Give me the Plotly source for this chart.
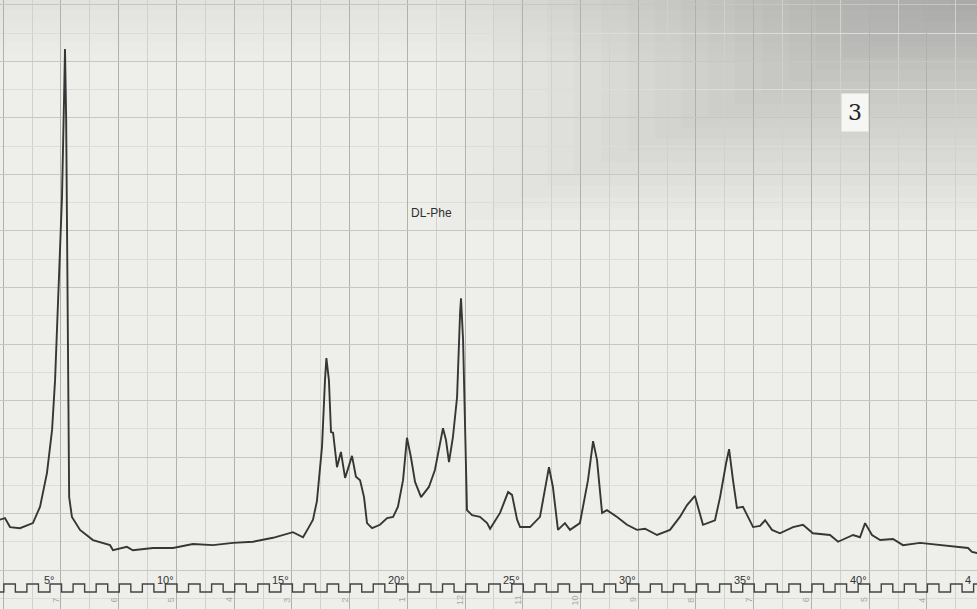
import plotly.graph_objects as go

# --- data (2-theta in degrees, intensity in chart divisions) ---
two_theta = [2.83, 3.05, 3.27, 3.70, 4.26, 4.57, 4.87, 5.09, 5.22, 5.35, 5.52, 5.61, 5.65,
             5.70, 5.74, 5.76, 5.79, 5.83, 5.95, 6.30, 6.86, 7.60, 7.73, 8.33, 8.59, 9.46,
             10.33, 11.19, 12.06, 12.93, 13.79, 14.66, 15.52, 15.96, 16.20, 16.39, 16.56,
             16.78, 16.91, 16.97, 17.08, 17.17, 17.26, 17.43, 17.60, 17.78, 18.08, 18.25,
             18.43, 18.60, 18.73, 18.95, 19.29, 19.60, 19.86, 20.07, 20.29, 20.46, 20.63,
             20.81, 21.07, 21.24, 21.41, 21.67, 21.85, 22.02, 22.15, 22.28, 22.45, 22.63,
             22.76, 22.80, 22.89, 22.97, 23.06, 23.28, 23.62, 23.93, 24.06, 24.49, 24.84,
             25.01, 25.23, 25.36, 25.79, 26.22, 26.61, 26.78, 27.00, 27.30, 27.52, 27.95,
             28.30, 28.52, 28.69, 28.91, 29.12, 29.56, 29.99, 30.42, 30.77, 31.29, 31.85,
             32.28, 32.59, 32.93, 33.28, 33.80, 34.02, 34.28, 34.41, 34.58, 34.75, 35.01,
             35.45, 35.75, 35.97, 36.27, 36.61, 37.18, 37.61, 38.04, 38.78, 39.13, 39.78,
             40.08, 40.30, 40.60, 40.95, 41.51, 41.94, 42.68, 43.55, 44.41, 44.76, 44.93, 45.15]
intensity = [8.9, 9.2, 7.6, 7.4, 8.3, 11.2, 17.2, 24.8, 33.6, 48.3, 66.0, 83.7, 92.2,
             80.0, 60.0, 48.3, 24.8, 12.9, 9.4, 7.1, 5.3, 4.4, 3.5, 4.1, 3.5, 3.9,
             3.9, 4.6, 4.4, 4.8, 5.0, 5.7, 6.7, 5.8, 7.5, 8.9, 12.2,
             21.8, 33.6, 37.5, 33.6, 24.4, 24.3, 18.2, 20.9, 16.3, 20.2, 16.5,
             15.9, 12.9, 8.3, 7.4, 8.0, 9.2, 9.4, 11.2, 15.9, 23.4, 20.0,
             15.6, 12.9, 13.8, 14.7, 17.7, 21.8, 25.1, 23.0, 19.1, 23.5, 30.6,
             45.5, 48.1, 40.7, 24.8, 10.6, 9.7, 9.4, 8.3, 7.3, 10.1, 13.8,
             13.3, 8.9, 7.6, 7.6, 9.4, 18.2, 14.7, 7.1, 8.3, 7.1, 8.3,
             15.9, 22.8, 19.5, 10.1, 10.6, 9.4, 8.0, 7.1, 7.3, 6.2, 7.1,
             9.4, 11.5, 13.1, 8.0, 8.8, 12.9, 18.9, 21.4, 15.9, 11.0, 11.2,
             7.6, 7.8, 8.8, 7.1, 6.5, 7.6, 8.0, 6.5, 6.2, 5.0, 6.2,
             5.8, 8.3, 6.2, 5.3, 5.5, 4.4, 4.8, 4.4, 4.1, 3.9, 3.2, 3.0]

degree_labels = ["5°", "10°", "15°", "20°", "25°", "30°", "35°", "40°", "4"]
degree_label_pos = [5, 10, 15, 20, 25, 30, 35, 40, 44.76]
paper_numbers = ["7", "6", "5", "4", "3", "2", "1", "12", "11", "10", "9", "8", "7", "6", "5", "4"]
timing_marks = list(range(2, 46))  # one pulse per degree

X_RANGE = [2.835, 45.147]
Y_RANGE = [-6.90, 100.88]
GRID0 = 5.476  # first bold chart-paper line (deg)

fig = go.Figure()

# timing square wave
wx, wy = [], []
for d in timing_marks:
    wx += [d, d + 0.5]
    wy += [-2.48, -3.89]
fig.add_trace(go.Scatter(x=wx, y=wy, mode="lines", line=dict(shape="hv", color="#444", width=1.4),
                         hoverinfo="skip", showlegend=False))

# diffraction trace
fig.add_trace(go.Scatter(x=two_theta, y=intensity, mode="lines",
                         line=dict(color="#363636", width=1.9), showlegend=False))

ann = []
for t, d in zip(degree_labels, degree_label_pos):
    ann.append(dict(x=d, y=-1.75, text=t, showarrow=False, xanchor="center", yanchor="middle",
                    font=dict(family="Liberation Sans", size=11, color="#333333")))
for i, t in enumerate(paper_numbers):
    ann.append(dict(x=GRID0 + 2.5 * i - 0.22, y=-5.3, text=t, showarrow=False, textangle=-90,
                    xanchor="center", yanchor="middle",
                    font=dict(family="Liberation Sans", size=9, color="#a8a8a8")))
ann.append(dict(x=21.54, y=63.2, text="DL-Phe", showarrow=False, xanchor="center", yanchor="middle",
                font=dict(family="Liberation Sans", size=12, color="#2e2e2e")))
ann.append(dict(x=0.875, y=0.816, xref="paper", yref="paper", text="3", showarrow=False,
                xanchor="center", yanchor="middle", bgcolor="#f6f6f4", borderpad=6,
                font=dict(family="DejaVu Serif", size=22, color="#222222")))

# scanned-paper shading toward the top-right corner
shapes = []
n = 20
for i in range(1, n + 1):
    f = i / n
    shapes.append(dict(type="rect", xref="paper", yref="paper", layer="below",
                       x0=1 - 0.55 * f, x1=1, y0=1 - 0.38 * f, y1=1,
                       fillcolor="rgba(60,60,60,0.016)", line=dict(width=0)))
for i in range(1, 7):
    shapes.append(dict(type="rect", xref="paper", yref="paper", layer="below",
                       x0=0, x1=1, y0=1 - 0.017 * i, y1=1,
                       fillcolor="rgba(60,60,60,0.011)", line=dict(width=0)))

fig.update_layout(
    width=977, height=609, margin=dict(l=0, r=0, t=0, b=0),
    paper_bgcolor="#eeeeea", plot_bgcolor="#eeeeea",
    annotations=ann, shapes=shapes, showlegend=False,
    xaxis=dict(range=X_RANGE, showticklabels=False, ticks="", zeroline=False, showline=False,
               tick0=GRID0, dtick=2.5, showgrid=True, gridcolor="#b0b0ae", gridwidth=1,
               minor=dict(tick0=GRID0, dtick=1.25, showgrid=True, gridcolor="#d0d0cd", gridwidth=1)),
    yaxis=dict(range=Y_RANGE, showticklabels=False, ticks="", zeroline=False, showline=False,
               tick0=0, dtick=10, showgrid=True, gridcolor="#c6c6c3", gridwidth=1,
               minor=dict(tick0=0, dtick=5, showgrid=True, gridcolor="#dcdcd9", gridwidth=1)),
)

fig.write_html("out.html", config={"displayModeBar": False},
               post_script="document.body.style.margin='0';document.body.style.overflow='hidden';")
